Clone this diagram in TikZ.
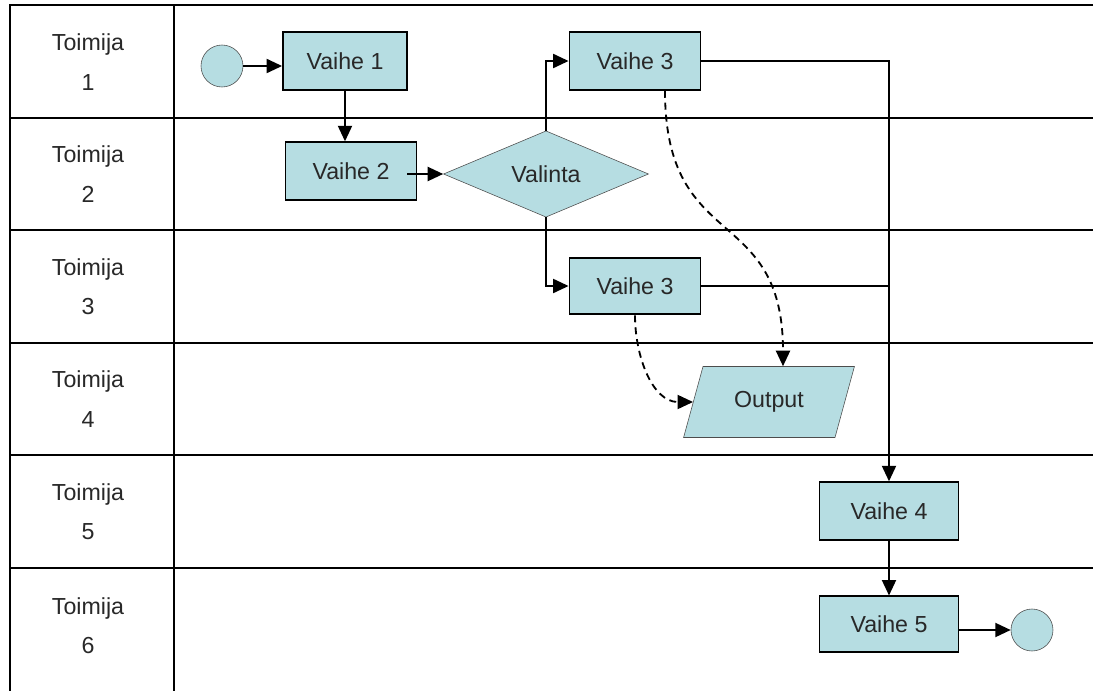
\documentclass[tikz,border=0pt]{standalone}
\usepackage{fontspec}
\setmainfont{Liberation Sans}
\usetikzlibrary{arrows.meta,shapes.geometric}
\definecolor{boxfill}{RGB}{182,221,226}
\definecolor{textgray}{RGB}{40,40,40}
\begin{document}
\begin{tikzpicture}[x=0.025cm,y=-0.025cm,
    font=\fontsize{16.5}{28}\selectfont,text=textgray,
    vaihe/.style={draw=black,line width=1.3pt,fill=boxfill,minimum height=1.44cm},
    ympyra/.style={circle,draw=black!70,thin,fill=boxfill,minimum size=1.05cm,inner sep=0pt},
    kulku/.style={line width=1.3pt,-{Triangle[length=11pt,width=10pt]}},
    katko/.style={kulku,dash pattern=on 5pt off 3.5pt}]
    \useasboundingbox (0,0) rectangle (1100,691);
    % taulukko
    \draw[line width=1.4pt] (1093,5)--(10,5)--(10,691);
    \draw[line width=1.4pt] (174,5)--(174,691);
    \foreach \y in {118,230,343,455,568}
    \draw[line width=1.4pt] (10,\y)--(1093,\y);
    \foreach \n/\y in {1/62,2/174,3/287,4/399,5/512,6/626}
    \node[align=center] (t\n) at (88,\y) {Toimija\\\n};
    % kaavio
    \node[ympyra] (alku) at (222,66) {};
    \node[vaihe,minimum width=3.1cm] (v1) at (345,61) {Vaihe 1};
    \node[vaihe,minimum width=3.275cm] (v2) at (351,171) {Vaihe 2};
    \node[diamond,draw=black!70,thin,fill=boxfill,minimum width=5.125cm,minimum height=2.05cm,inner sep=0pt] (val) at (546,174) {Valinta};
    \node[vaihe,minimum width=3.275cm] (v3a) at (635,61) {Vaihe 3};
    \node[vaihe,minimum width=3.275cm,minimum height=1.42cm] (v3b) at (635,286) {Vaihe 3};
    \node[trapezium,trapezium left angle=64,trapezium right angle=116,trapezium stretches=true,
      draw=black!70,thin,fill=boxfill,minimum width=4.3cm,minimum height=1.775cm,inner sep=0pt] (out) at (769,402) {Output};
    \node[vaihe,minimum width=3.475cm] (v4) at (889,511) {Vaihe 4};
    \node[vaihe,minimum width=3.475cm,minimum height=1.38cm] (v5) at (889,624) {Vaihe 5};
    \node[ympyra] (loppu) at (1032,630) {};
    \draw[kulku] (alku.east)--(alku.east -| v1.west);
    \draw[kulku] (v1.south)--(v1.south |- v2.north);
    \draw[kulku] ([xshift=-0.25cm]v2.east |- val.west)--(val.west);
    \draw[kulku] (val.north) |- (v3a.west);
    \draw[kulku] (val.south) |- (v3b.west);
    \draw[kulku] (v3a.east) -| (v4.north);
    \draw[line width=1.3pt] (v3b.east)--(v3b.east -| v4.north);
    \draw[kulku] (v4)--(v5);
    \draw[kulku] (v5.east |- loppu.west)--(loppu.west);
    \draw[katko] ([xshift=0.75cm]v3a.south) to[out=-90,in=90,looseness=1.4] ([xshift=0.35cm]out.north);
    \draw[katko] (v3b.south) to[out=-90,in=180] (out.west);
  \end{tikzpicture}
\end{document}
